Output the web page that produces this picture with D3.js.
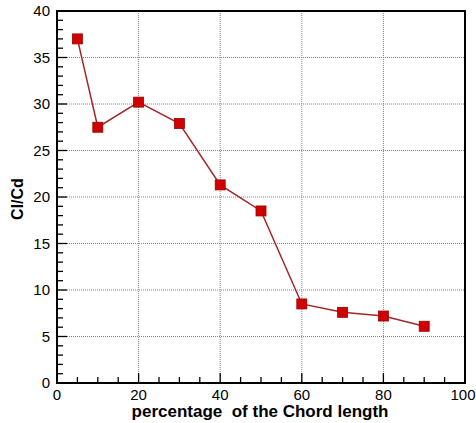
<!DOCTYPE html>
<html>
<head>
<meta charset="utf-8">
<script src="https://cdn.jsdelivr.net/npm/d3@7"></script>
<style>
  html, body { margin: 0; padding: 0; background: #fff; }
  svg { display: block; }
</style>
</head>
<body>
<svg id="chart" width="476" height="423"></svg>
<script>
// Lift-to-drag ratio along the chord
const chordPercent = [5, 10, 20, 30, 40, 50, 60, 70, 80, 90];
const clCd = [37.0, 27.5, 30.2, 27.9, 21.3, 18.5, 8.5, 7.6, 7.2, 6.1];
const xTicks = [0, 20, 40, 60, 80, 100];
const yTicks = [0, 5, 10, 15, 20, 25, 30, 35, 40];
const xTitle = "percentage\u00a0 of the Chord length";
const yTitle = "Cl/Cd";

(function () {
  const W = 476;
  const svg = d3.select("#chart");
  const plotL = 57, plotR = 465, plotT = 11, plotB = 383;

  const x = d3.scaleLinear().domain([0, 100]).range([plotL, plotR]);
  const y = d3.scaleLinear().domain([0, 40]).range([plotB, plotT]);

  const font = "Arial, 'Liberation Sans', sans-serif";

  // dotted grid at major ticks
  const grid = svg.append("g").attr("stroke", "#888").attr("stroke-width", 1)
    .attr("stroke-dasharray", "1,1");
  grid.selectAll(".gx").data(xTicks.filter(d => d > 0 && d < 100)).join("line")
    .attr("x1", d => x(d)).attr("x2", d => x(d)).attr("y1", plotT).attr("y2", plotB);
  grid.selectAll(".gy").data(yTicks.filter(d => d > 0 && d < 40)).join("line")
    .attr("y1", d => y(d)).attr("y2", d => y(d)).attr("x1", plotL).attr("x2", plotR);

  // inward ticks: major and minor
  const ticks = svg.append("g").attr("stroke", "#000").attr("stroke-width", 1.3);
  const xMinor = d3.range(0, 101, 5);
  const yMinor = d3.range(0, 41, 1);
  ticks.selectAll(".tx").data(xMinor).join("line")
    .attr("x1", d => x(d)).attr("x2", d => x(d))
    .attr("y1", plotB).attr("y2", d => plotB - (d % 20 === 0 ? 10 : 6));
  ticks.selectAll(".ty").data(yMinor).join("line")
    .attr("y1", d => y(d)).attr("y2", d => y(d))
    .attr("x1", plotL).attr("x2", d => plotL + (d % 5 === 0 ? 10 : 6));

  // frame
  svg.append("rect").attr("x", plotL).attr("y", plotT)
    .attr("width", plotR - plotL).attr("height", plotB - plotT)
    .attr("fill", "none").attr("stroke", "#000").attr("stroke-width", 2);

  // tick labels; the last x label is kept inside the canvas
  svg.append("g").selectAll("text").data(xTicks).join("text")
    .attr("x", d => x(d)).attr("y", plotB + 17)
    .attr("text-anchor", "middle")
    .attr("font-family", font).attr("font-size", 15).attr("fill", "#000")
    .text(d => d)
    .each(function (d) {
      const half = this.getComputedTextLength() / 2;
      if (x(d) + half > W) d3.select(this).attr("x", W - half - 0.5);
    });
  svg.append("g").selectAll("text").data(yTicks).join("text")
    .attr("x", plotL - 7).attr("y", d => y(d) + 5)
    .attr("text-anchor", "end")
    .attr("font-family", font).attr("font-size", 15).attr("fill", "#000")
    .text(d => d);

  // axis titles
  svg.append("text").attr("x", 260).attr("y", 417)
    .attr("text-anchor", "middle")
    .attr("font-family", font).attr("font-size", 17).attr("font-weight", "bold")
    .text(xTitle);
  svg.append("text")
    .attr("transform", "translate(23,199) rotate(-90)")
    .attr("text-anchor", "middle")
    .attr("font-family", font).attr("font-size", 16).attr("font-weight", "bold")
    .text(yTitle);

  // series line and square markers
  const pts = chordPercent.map((c, i) => [c, clCd[i]]);
  svg.append("path").datum(pts)
    .attr("fill", "none").attr("stroke", "#a3262a").attr("stroke-width", 1.5)
    .attr("d", d3.line().x(d => x(d[0])).y(d => y(d[1])));
  const s = 10;
  svg.append("g").selectAll("rect").data(pts).join("rect")
    .attr("x", d => x(d[0]) - s / 2).attr("y", d => y(d[1]) - s / 2)
    .attr("width", s).attr("height", s)
    .attr("fill", "#d10000").attr("stroke", "#9a0000").attr("stroke-width", 0.8);
})();
</script>
</body>
</html>
